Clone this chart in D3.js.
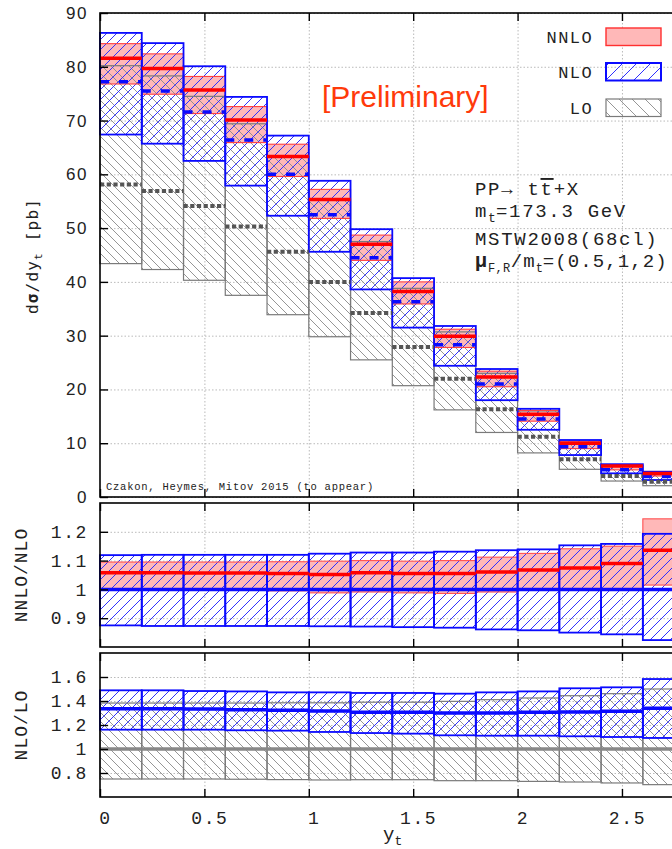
<!DOCTYPE html>
<html>
<head>
<meta charset="utf-8">
<script src="https://cdn.jsdelivr.net/npm/d3@7"></script>
<style>
  body { margin: 0; background: #fff; }
  svg { display: block; }
</style>
</head>
<body>
<div id="chart"></div>
<script>
// bin edges in y_t
const binEdges = [0, 0.2, 0.4, 0.6, 0.8, 1.0, 1.2, 1.4, 1.6, 1.8, 2.0, 2.2, 2.4, 2.6, 2.8];
const seriesNames = ["NNLO", "NLO", "LO"];

// main panel, d sigma / d y_t [pb]
const loCentral   = [58.1, 56.9, 54.1, 50.3, 45.6, 40.0, 34.2, 27.9, 22.0, 16.3, 11.2, 7.0, 3.9, 2.85];
const loLow       = [43.4, 42.3, 40.3, 37.5, 33.9, 29.8, 25.5, 20.7, 16.2, 12.0, 8.2, 5.15, 2.97, 2.1];
const loHigh      = [80.2, 78.3, 74.5, 69.4, 63.2, 55.4, 47.5, 38.8, 30.7, 23.0, 16.0, 10.2, 5.8, 4.2];
const nloCentral  = [77.2, 75.5, 71.6, 66.4, 60.0, 52.5, 44.5, 36.3, 28.3, 21.0, 14.5, 9.35, 5.05, 3.8];
const nloLow      = [67.4, 65.7, 62.5, 57.9, 52.3, 45.6, 38.6, 31.5, 24.4, 18.0, 12.5, 7.8, 4.4, 3.16];
const nloHigh     = [86.3, 84.4, 80.1, 74.4, 67.2, 58.8, 49.8, 40.7, 31.8, 23.8, 16.4, 10.6, 6.1, 4.7];
const nnloCentral = [81.6, 79.7, 75.7, 70.1, 63.3, 55.3, 47.0, 38.2, 29.9, 22.3, 15.4, 10.0, 5.75, 4.35];
const nnloLow     = [76.8, 74.9, 71.3, 65.9, 59.6, 51.8, 44.0, 35.9, 27.8, 20.5, 14.1, 9.0, 5.05, 3.9];
const nnloHigh    = [84.3, 82.4, 78.2, 72.6, 65.6, 57.2, 48.7, 40.0, 31.2, 23.4, 16.1, 10.4, 5.95, 4.75];

// NNLO/NLO ratio panel
const r1NloLow     = [0.875, 0.873, 0.873, 0.873, 0.873, 0.872, 0.871, 0.869, 0.867, 0.861, 0.858, 0.850, 0.844, 0.824];
const r1NloHigh    = [1.119, 1.120, 1.120, 1.120, 1.120, 1.124, 1.128, 1.128, 1.131, 1.136, 1.139, 1.153, 1.158, 1.193];
const r1NnloCenter = [1.058, 1.058, 1.057, 1.057, 1.055, 1.052, 1.058, 1.055, 1.055, 1.060, 1.067, 1.074, 1.090, 1.136];
const r1NnloLow    = [1.003, 1.002, 1.000, 0.998, 0.995, 0.988, 0.991, 0.988, 0.986, 0.991, 1.000, 1.003, 1.000, 1.015];
const r1NnloHigh   = [1.095, 1.095, 1.095, 1.095, 1.096, 1.098, 1.100, 1.098, 1.100, 1.112, 1.125, 1.141, 1.150, 1.245];

// NLO/LO ratio panel
const r2NloCenter = [1.336, 1.336, 1.333, 1.328, 1.322, 1.317, 1.306, 1.306, 1.300, 1.300, 1.306, 1.308, 1.314, 1.339];
const r2NloLow    = [1.161, 1.161, 1.161, 1.156, 1.153, 1.142, 1.133, 1.128, 1.114, 1.111, 1.111, 1.106, 1.100, 1.092];
const r2NloHigh   = [1.489, 1.489, 1.483, 1.480, 1.472, 1.472, 1.467, 1.467, 1.461, 1.472, 1.480, 1.506, 1.514, 1.583];
const r2LoLow     = [0.750, 0.750, 0.750, 0.748, 0.745, 0.742, 0.744, 0.744, 0.736, 0.736, 0.730, 0.725, 0.717, 0.703];
const r2LoHigh    = [1.383, 1.383, 1.383, 1.383, 1.385, 1.385, 1.390, 1.390, 1.397, 1.411, 1.425, 1.444, 1.461, 1.500];

const mainTicks = [0, 10, 20, 30, 40, 50, 60, 70, 80, 90];
const r1Ticks = [0.9, 1, 1.1, 1.2];
const r2Ticks = [0.8, 1, 1.2, 1.4, 1.6];
const xTicks = [0, 0.5, 1, 1.5, 2, 2.5];

const mono = "'Liberation Mono', 'Courier New', monospace";
const sans = "'Liberation Sans', Arial, sans-serif";
const BLUE = "#0a0aff", RED = "#ff0000", PINK = "#ffb8b8", GREY = "#7a7a7a";

const svg = d3.select("#chart").append("svg")
    .attr("width", 672)
    .attr("height", 849);

const x = d3.scaleLinear().domain([0, 2.8]).range([100, 684.6]);
const yMain = d3.scaleLinear().domain([0, 90]).range([497, 13]);
const yR1 = d3.scaleLinear().domain([0.8, 1.3]).range([647, 503]);
const yR2 = d3.scaleLinear().domain([0.6, 1.8]).range([797, 653]);

const bins = d3.range(binEdges.length - 1).map(i => ({ i, x0: binEdges[i], x1: binEdges[i + 1] }));

// hatch patterns
const defs = svg.append("defs");
function hatch(id, forward, color, s, sw) {
  const d = forward
    ? `M${-s / 4},${s / 4}L${s / 4},${-s / 4}M0,${s}L${s},0M${s * 0.75},${s * 1.25}L${s * 1.25},${s * 0.75}`
    : `M${-s / 4},${s * 0.75}L${s / 4},${s * 1.25}M0,0L${s},${s}M${s * 0.75},${-s / 4}L${s * 1.25},${s / 4}`;
  defs.append("pattern")
      .attr("id", id)
      .attr("patternUnits", "userSpaceOnUse")
      .attr("width", s).attr("height", s)
    .append("path")
      .attr("d", d)
      .attr("stroke", color)
      .attr("stroke-width", sw)
      .attr("fill", "none");
}
hatch("nloHatch", true, "#3030ff", 10, 1);
hatch("loHatch", false, "#8a8a8a", 9, 0.9);
hatch("nloHatchLeg", true, "#3030ff", 14, 1);
hatch("loHatchLeg", false, "#8a8a8a", 13, 0.9);

// grid behind everything
function grid(y, ticks) {
  const [b, t] = y.range();
  const g = svg.append("g");
  g.append("g")
      .attr("transform", `translate(${x(0)},0)`)
      .call(d3.axisLeft(y).tickValues(ticks).tickSize(-(x.range()[1] - x(0))).tickFormat(""))
      .call(a => a.select(".domain").remove());
  g.append("g")
      .attr("transform", `translate(0,${b})`)
      .call(d3.axisBottom(x).tickValues(xTicks.slice(1)).tickSize(-(b - t)).tickFormat(""))
      .call(a => a.select(".domain").remove());
  g.selectAll("line")
      .attr("stroke", "#a8a8a8")
      .attr("stroke-width", 0.8)
      .attr("stroke-dasharray", "1.5,2");
}

// boxes per bin
function boxes(y, lo, hi, fill, stroke, sw) {
  svg.append("g").selectAll("rect")
    .data(bins)
    .join("rect")
      .attr("x", d => x(d.x0))
      .attr("width", d => x(d.x1) - x(d.x0))
      .attr("y", d => y(hi[d.i]))
      .attr("height", d => y(lo[d.i]) - y(hi[d.i]))
      .attr("fill", fill)
      .attr("stroke", stroke)
      .attr("stroke-width", sw);
}

// central value per bin
function levels(y, vals, color, sw, dash) {
  svg.append("g").selectAll("line")
    .data(bins)
    .join("line")
      .attr("x1", d => x(d.x0))
      .attr("x2", d => x(d.x1))
      .attr("y1", d => y(vals[d.i]))
      .attr("y2", d => y(vals[d.i]))
      .attr("stroke", color)
      .attr("stroke-width", sw)
      .attr("stroke-dasharray", dash || null);
}

// frame, ticks and labels on top
function frame(y, ticks, labelFont, labelSize, fmt, showX) {
  const [b, t] = y.range();
  const g = svg.append("g");
  g.append("rect")
      .attr("x", x(0)).attr("y", t)
      .attr("width", x.range()[1] - x(0)).attr("height", b - t)
      .attr("fill", "none").attr("stroke", "#000").attr("stroke-width", 1.6);

  const left = g.append("g")
      .attr("transform", `translate(${x(0)},0)`)
      .call(d3.axisLeft(y).tickValues(ticks).tickSize(-8).tickPadding(12).tickFormat(fmt));
  left.select(".domain").remove();
  left.selectAll("text")
      .attr("font-family", labelFont)
      .attr("font-size", labelSize)
      .attr("letter-spacing", 1.6)
      .attr("fill", "#222");

  g.append("g")
      .attr("transform", `translate(0,${t})`)
      .call(d3.axisTop(x).tickValues(xTicks).tickSize(-8).tickFormat(""))
      .select(".domain").remove();

  const bottom = g.append("g")
      .attr("transform", `translate(0,${b})`)
      .call(d3.axisBottom(x).tickValues(xTicks).tickSize(-8).tickPadding(14)
        .tickFormat(showX ? d3.format("") : ""));
  bottom.select(".domain").remove();
  bottom.selectAll("text")
      .attr("font-family", mono)
      .attr("font-size", 18)
      .attr("letter-spacing", 1.6)
      .attr("dx", 5)
      .attr("fill", "#222");

  g.selectAll(".tick line").attr("stroke", "#000").attr("stroke-width", 1.4);
}

// ---------- main panel ----------
grid(yMain, mainTicks);
boxes(yMain, nnloLow, nnloHigh, PINK, "none", 0);
boxes(yMain, loLow, loHigh, "url(#loHatch)", "none", 0);
boxes(yMain, nloLow, nloHigh, "url(#nloHatch)", "none", 0);
boxes(yMain, loLow, loHigh, "none", GREY, 1.2);
boxes(yMain, nnloLow, nnloHigh, "none", "#ff4040", 1.1);
boxes(yMain, nloLow, nloHigh, "none", BLUE, 1.8);
levels(yMain, loCentral, "#555", 4, "4.2,2.5");
levels(yMain, nloCentral, BLUE, 3.5, "9,10");
levels(yMain, nnloCentral, RED, 3.5);
frame(yMain, mainTicks, sans, 17, d3.format(""), false);

// ---------- NNLO/NLO ----------
grid(yR1, r1Ticks);
boxes(yR1, r1NnloLow, r1NnloHigh, PINK, "none", 0);
boxes(yR1, r1NloLow, r1NloHigh, "url(#nloHatch)", "none", 0);
boxes(yR1, r1NnloLow, r1NnloHigh, "none", "#ff5050", 1.1);
boxes(yR1, r1NloLow, r1NloHigh, "none", BLUE, 1.8);
levels(yR1, bins.map(() => 1), BLUE, 3.5);
levels(yR1, r1NnloCenter, RED, 3.5);
frame(yR1, r1Ticks, mono, 18, d => d3.format("")(d), false);

// ---------- NLO/LO ----------
grid(yR2, r2Ticks);
boxes(yR2, r2LoLow, r2LoHigh, "url(#loHatch)", "none", 0);
boxes(yR2, r2NloLow, r2NloHigh, "url(#nloHatch)", "none", 0);
boxes(yR2, r2LoLow, r2LoHigh, "none", GREY, 1.2);
boxes(yR2, r2NloLow, r2NloHigh, "none", BLUE, 1.8);
levels(yR2, bins.map(() => 1), "#888", 3.5);
levels(yR2, r2NloCenter, BLUE, 3.5);
frame(yR2, r2Ticks, mono, 18, d => d3.format("")(d), true);

// ---------- axis titles ----------
const yTitle = svg.append("text")
    .attr("transform", "translate(38,256) rotate(-90)")
    .attr("text-anchor", "middle")
    .attr("font-family", "'DejaVu Sans Mono', monospace")
    .attr("font-size", 16)
    .attr("letter-spacing", 1.2)
    .attr("fill", "#222");
yTitle.append("tspan").text("d");
yTitle.append("tspan").attr("font-weight", "bold").text("σ");
yTitle.append("tspan").text("/dy");
yTitle.append("tspan").attr("font-size", 11).attr("dy", 4).text("t");
yTitle.append("tspan").attr("dy", -4).text("  [pb]");

svg.append("text")
    .attr("transform", "translate(27,575) rotate(-90)")
    .attr("text-anchor", "middle")
    .attr("font-family", mono).attr("font-size", 18).attr("letter-spacing", 1)
    .attr("fill", "#222")
    .text("NNLO/NLO");
svg.append("text")
    .attr("transform", "translate(27,725) rotate(-90)")
    .attr("text-anchor", "middle")
    .attr("font-family", mono).attr("font-size", 18).attr("letter-spacing", 1)
    .attr("fill", "#222")
    .text("NLO/LO");

const xTitle = svg.append("text")
    .attr("x", 383).attr("y", 840)
    .attr("font-family", mono).attr("font-size", 19)
    .attr("fill", "#222");
xTitle.append("tspan").text("y");
xTitle.append("tspan").attr("font-size", 13).attr("dy", 5).text("t");

// ---------- annotations ----------
svg.append("text")
    .attr("x", 322).attr("y", 107)
    .attr("font-family", sans).attr("font-size", 30)
    .attr("fill", "#ff3a0a")
    .text("[Preliminary]");

svg.append("text")
    .attr("x", 106).attr("y", 490)
    .attr("font-family", mono).attr("font-size", 10.5).attr("letter-spacing", 0.75)
    .attr("fill", "#222")
    .text("Czakon, Heymes, Mitov 2015 (to appear)");

const ann = svg.append("g")
    .attr("font-family", mono).attr("font-size", 19).attr("letter-spacing", 1.7)
    .attr("fill", "#222");
const l1 = ann.append("text").attr("x", 475).attr("y", 195);
l1.append("tspan").text("PP→ t");
l1.append("tspan").attr("text-decoration", "overline").text("t");
l1.append("tspan").text("+X");
const l2 = ann.append("text").attr("x", 475).attr("y", 217);
l2.append("tspan").text("m");
l2.append("tspan").attr("font-size", 13).attr("letter-spacing", 0).attr("dy", 5).text("t");
l2.append("tspan").attr("dy", -5).text("=173.3 GeV");
ann.append("text").attr("x", 475).attr("y", 245).text("MSTW2008(68cl)");
const l4 = ann.append("text").attr("x", 475).attr("y", 267).attr("letter-spacing", 1.1);
l4.append("tspan").attr("font-weight", "bold").attr("font-size", 20).text("μ");
l4.append("tspan").attr("font-size", 12).attr("letter-spacing", 0.3).attr("dy", 5).text("F,R");
l4.append("tspan").attr("dy", -5).text("/m");
l4.append("tspan").attr("font-size", 12).attr("letter-spacing", 0).attr("dy", 5).text("t");
l4.append("tspan").attr("dy", -5).text("=(0.5,1,2)");

// ---------- legend ----------
const legendStyle = [
  { fill: PINK, stroke: "#ff3030", sw: 1.4, y: 28 },
  { fill: "url(#nloHatchLeg)", stroke: BLUE, sw: 2, y: 63 },
  { fill: "url(#loHatchLeg)", stroke: GREY, sw: 1.2, y: 99 }
];
const leg = svg.append("g").selectAll("g")
  .data(seriesNames)
  .join("g");
leg.append("rect")
    .attr("x", 606).attr("width", 55)
    .attr("y", (d, i) => legendStyle[i].y).attr("height", 17.5)
    .attr("fill", (d, i) => legendStyle[i].fill)
    .attr("stroke", (d, i) => legendStyle[i].stroke)
    .attr("stroke-width", (d, i) => legendStyle[i].sw);
leg.append("text")
    .attr("x", 593).attr("y", (d, i) => legendStyle[i].y + 15)
    .attr("text-anchor", "end")
    .attr("font-family", mono).attr("font-size", 17).attr("letter-spacing", 1.4)
    .attr("fill", "#222")
    .text(d => d);
</script>
</body>
</html>
